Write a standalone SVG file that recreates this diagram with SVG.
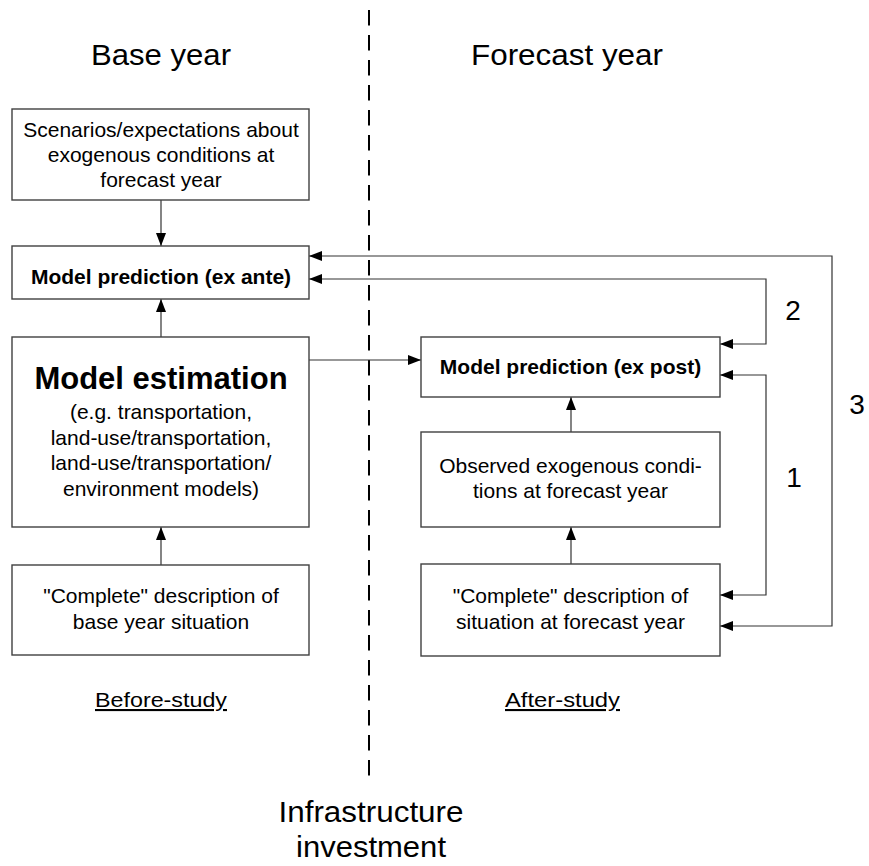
<svg xmlns="http://www.w3.org/2000/svg" width="869" height="866" viewBox="0 0 869 866">
<style>
text{font-family:"Liberation Sans",Arial,Helvetica,sans-serif;fill:#000}
.box{fill:#fff;stroke:#404040;stroke-width:1.4}
.t{font-size:21px;text-anchor:middle}
.b{font-size:21px;font-weight:bold;text-anchor:middle}
.big{font-size:31px;font-weight:bold;text-anchor:middle}
.lbl{font-size:29px;text-anchor:middle}
.sm{font-size:21px;text-anchor:middle;text-decoration:underline}
.num{font-size:28px;text-anchor:middle}
.con{fill:none;stroke:#333;stroke-width:1.2}
</style>
<defs>
<marker id="ah" viewBox="0 0 13 10" refX="13" refY="5" markerWidth="13" markerHeight="10" markerUnits="userSpaceOnUse" orient="auto-start-reverse">
<path d="M0,0 L13,5 L0,10 z" fill="#000"/>
</marker>
</defs>
<rect width="869" height="866" fill="#fff"/>
<g id="divider">
<line x1="369" y1="10" x2="369" y2="776" stroke="#000" stroke-width="2" stroke-dasharray="15.5 9.5"/>
</g>
<g id="labels">
<text class="lbl" x="161" y="65" textLength="140" lengthAdjust="spacingAndGlyphs">Base year</text>
<text class="lbl" x="567" y="65" textLength="192" lengthAdjust="spacingAndGlyphs">Forecast year</text>
<text class="sm" x="161" y="707" textLength="132" lengthAdjust="spacingAndGlyphs">Before-study</text>
<text class="sm" x="562.5" y="707" textLength="115" lengthAdjust="spacingAndGlyphs">After-study</text>
<text class="lbl" x="371" y="822" textLength="185" lengthAdjust="spacingAndGlyphs">Infrastructure</text>
<text class="lbl" x="371" y="857" textLength="150" lengthAdjust="spacingAndGlyphs">investment</text>
<text class="num" x="793" y="320">2</text>
<text class="num" x="794" y="487">1</text>
<text class="num" x="857" y="414">3</text>
</g>
<g id="connectors">
<path class="con" d="M161,200 V246" marker-end="url(#ah)"/>
<path class="con" d="M161,337 V299" marker-end="url(#ah)"/>
<path class="con" d="M161,565 V527" marker-end="url(#ah)"/>
<path class="con" d="M309,360 H421" marker-end="url(#ah)"/>
<path class="con" d="M571,432 V397" marker-end="url(#ah)"/>
<path class="con" d="M571,564 V527" marker-end="url(#ah)"/>
<path class="con" d="M720,344 H766 V279 H309" marker-start="url(#ah)" marker-end="url(#ah)"/>
<path class="con" d="M720,375 H766 V595 H720" marker-start="url(#ah)" marker-end="url(#ah)"/>
<path class="con" d="M309,256 H832 V626 H720" marker-start="url(#ah)" marker-end="url(#ah)"/>
</g>
<g id="scenarios">
<rect class="box" x="12" y="109" width="297" height="91"/>
<text class="t" x="161" y="137">Scenarios/expectations about</text>
<text class="t" x="161" y="162">exogenous conditions at</text>
<text class="t" x="161" y="187">forecast year</text>
</g>
<g id="ex-ante">
<rect class="box" x="12" y="246" width="297" height="53"/>
<text class="b" x="161" y="284">Model prediction (ex ante)</text>
</g>
<g id="estimation">
<rect class="box" x="12" y="337" width="297" height="190"/>
<text class="big" x="161" y="389">Model estimation</text>
<text class="t" x="161" y="419">(e.g. transportation,</text>
<text class="t" x="161" y="445">land-use/transportation,</text>
<text class="t" x="161" y="470">land-use/transportation/</text>
<text class="t" x="161" y="496">environment models)</text>
</g>
<g id="base-description">
<rect class="box" x="12" y="565" width="297" height="90"/>
<text class="t" x="161" y="603">"Complete" description of</text>
<text class="t" x="161" y="629">base year situation</text>
</g>
<g id="ex-post">
<rect class="box" x="421" y="337" width="299" height="60"/>
<text class="b" x="570.5" y="374">Model prediction (ex post)</text>
</g>
<g id="observed">
<rect class="box" x="421" y="432" width="299" height="95"/>
<text class="t" x="570.5" y="473">Observed exogenous condi-</text>
<text class="t" x="570.5" y="498">tions at forecast year</text>
</g>
<g id="forecast-description">
<rect class="box" x="421" y="564" width="299" height="92"/>
<text class="t" x="570.5" y="603">"Complete" description of</text>
<text class="t" x="570.5" y="629">situation at forecast year</text>
</g>
</svg>
